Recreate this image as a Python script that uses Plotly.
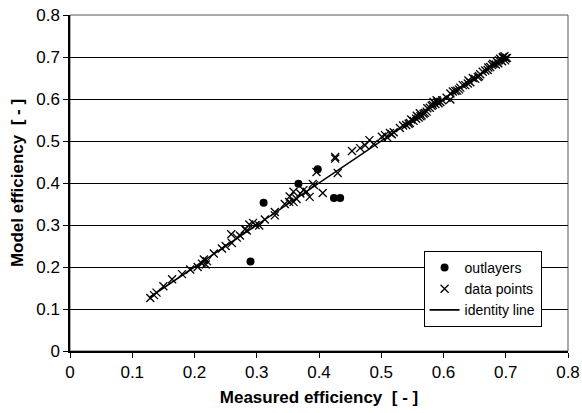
import plotly.graph_objects as go

# Outliers (filled circles)
outlier_x = [0.398, 0.367, 0.311, 0.290, 0.424, 0.434]
outlier_y = [0.433, 0.398, 0.353, 0.213, 0.364, 0.364]

# Data points (crosses)
data_x = [0.129, 0.139, 0.150, 0.164, 0.180, 0.193, 0.205, 0.212, 0.218, 0.220,
          0.231, 0.244, 0.259, 0.260, 0.268, 0.273, 0.281, 0.288, 0.294, 0.304,
          0.313, 0.329, 0.329, 0.352, 0.353, 0.359, 0.359, 0.370, 0.375, 0.380,
          0.385, 0.390, 0.396, 0.406, 0.426, 0.426, 0.430, 0.453, 0.466, 0.474,
          0.481, 0.501, 0.506, 0.514, 0.520, 0.530, 0.544, 0.552, 0.560, 0.565,
          0.570, 0.578, 0.584, 0.589, 0.595, 0.611, 0.611, 0.619, 0.627, 0.635,
          0.643, 0.651, 0.659, 0.667, 0.675, 0.680, 0.686, 0.691, 0.696, 0.702,
          0.699, 0.135, 0.215, 0.250, 0.284, 0.298, 0.345, 0.364, 0.392, 0.488,
          0.510, 0.517, 0.535, 0.540, 0.548, 0.556, 0.562, 0.568, 0.574, 0.581,
          0.587, 0.592, 0.598, 0.605, 0.615, 0.622, 0.631, 0.639, 0.647, 0.655,
          0.663, 0.671, 0.678, 0.684, 0.689, 0.694, 0.698, 0.700, 0.557, 0.573,
          0.583, 0.590, 0.625, 0.640, 0.657, 0.672, 0.688, 0.695, 0.546, 0.563]
data_y = [0.126, 0.139, 0.154, 0.171, 0.183, 0.194, 0.200, 0.208, 0.206, 0.214,
          0.232, 0.244, 0.278, 0.257, 0.270, 0.275, 0.290, 0.301, 0.305, 0.299,
          0.313, 0.323, 0.331, 0.355, 0.368, 0.379, 0.355, 0.375, 0.383, 0.379,
          0.367, 0.398, 0.426, 0.376, 0.462, 0.458, 0.424, 0.476, 0.483, 0.490,
          0.502, 0.510, 0.514, 0.519, 0.521, 0.531, 0.541, 0.548, 0.556, 0.561,
          0.567, 0.579, 0.593, 0.597, 0.593, 0.599, 0.613, 0.619, 0.627, 0.633,
          0.640, 0.648, 0.659, 0.668, 0.676, 0.684, 0.688, 0.696, 0.700, 0.698,
          0.692, 0.133, 0.218, 0.250, 0.287, 0.300, 0.350, 0.362, 0.395, 0.493,
          0.508, 0.516, 0.537, 0.538, 0.551, 0.553, 0.566, 0.565, 0.578, 0.584,
          0.588, 0.590, 0.597, 0.603, 0.618, 0.620, 0.633, 0.637, 0.650, 0.652,
          0.665, 0.669, 0.681, 0.682, 0.692, 0.690, 0.702, 0.697, 0.560, 0.570,
          0.586, 0.594, 0.623, 0.644, 0.654, 0.675, 0.685, 0.699, 0.543, 0.559]

# Identity line endpoints
line_x = [0.128, 0.702]
line_y = [0.128, 0.702]

x_ticks = [0, 0.1, 0.2, 0.3, 0.4, 0.5, 0.6, 0.7, 0.8]
y_ticks = [0, 0.1, 0.2, 0.3, 0.4, 0.5, 0.6, 0.7, 0.8]
x_tick_text = ["0", "0.1", "0.2", "0.3", "0.4", "0.5", "0.6", "0.7", "0.8"]
y_tick_text = ["0", "0.1", "0.2", "0.3", "0.4", "0.5", "0.6", "0.7", "0.8"]

fig = go.Figure()
fig.add_trace(go.Scatter(x=outlier_x, y=outlier_y, mode="markers", name="outlayers",
                         marker=dict(symbol="circle", size=8, color="black")))
fig.add_trace(go.Scatter(x=data_x, y=data_y, mode="markers", name="data points",
                         marker=dict(symbol="x-thin", size=8, color="black",
                                     line=dict(width=1.3, color="black"))))
fig.add_trace(go.Scatter(x=line_x, y=line_y, mode="lines", name="identity line",
                         line=dict(color="black", width=1.6)))

font_family = "Liberation Sans, Arial, sans-serif"
fig.update_layout(
    width=582, height=413,
    margin=dict(l=70, r=14, t=15, b=62, autoexpand=False),
    paper_bgcolor="white", plot_bgcolor="white",
    font=dict(family=font_family, size=17, color="black"),
    showlegend=True,
    legend=dict(x=0.71, y=0.298, xanchor="left", yanchor="top",
                bordercolor="black", borderwidth=1, bgcolor="white",
                font=dict(size=14), tracegroupgap=0, itemwidth=30),
    xaxis=dict(range=[0, 0.8], tickvals=x_ticks, ticktext=x_tick_text,
               showgrid=False, zeroline=False, automargin=False,
               showline=True, linecolor="black", linewidth=1.5, mirror=False,
               ticks="outside", ticklen=5, tickcolor="black",
               tickfont=dict(size=17),
               title=dict(text="<b>Measured efficiency &nbsp;[ - ]</b>", font=dict(size=17), standoff=10)),
    yaxis=dict(range=[0, 0.8], tickvals=y_ticks, ticktext=y_tick_text,
               showgrid=True, gridcolor="black", gridwidth=1, zeroline=False, automargin=False,
               showline=True, linecolor="black", linewidth=1.5,
               ticks="outside", ticklen=5, tickcolor="black",
               tickfont=dict(size=17),
               title=dict(text="<b>Model efficiency &nbsp;[ - ]</b>", font=dict(size=17), standoff=8)),
    shapes=[dict(type="rect", xref="paper", yref="paper", x0=0, y0=0, x1=1, y1=1,
                 line=dict(color="#555555", width=1), layer="below")],
)

fig.write_html("out.html")
